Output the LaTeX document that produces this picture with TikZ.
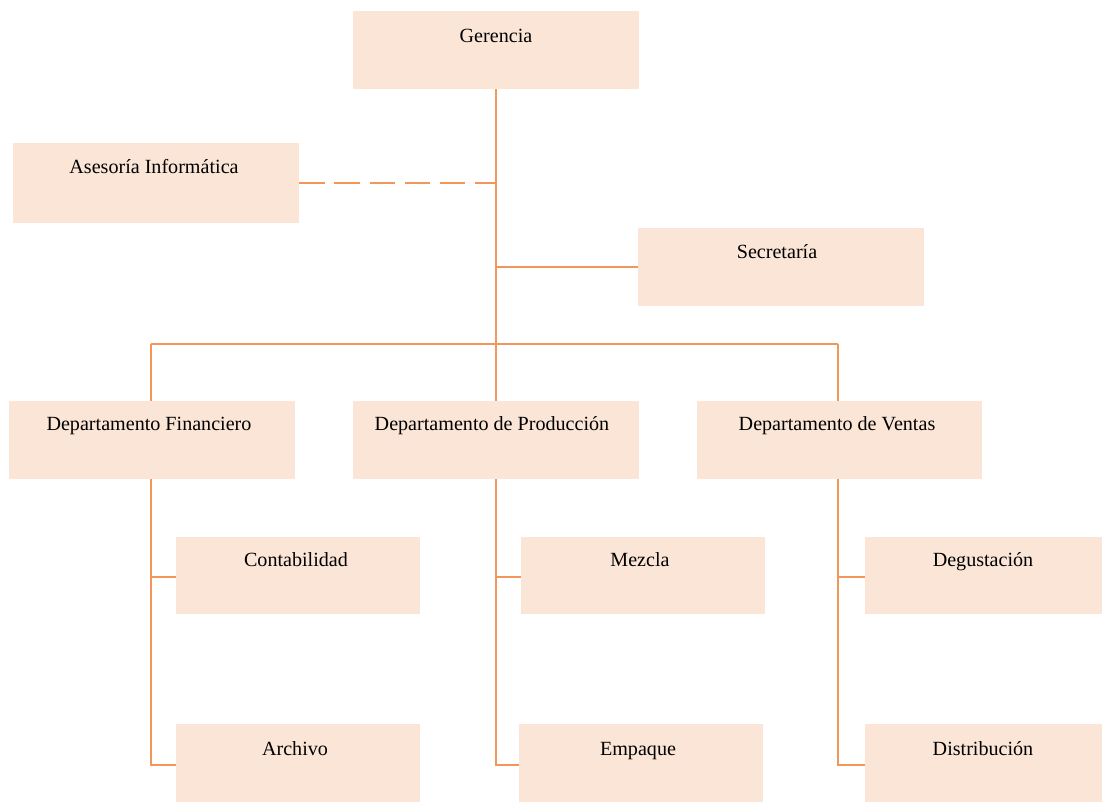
\documentclass[tikz,border=0pt]{standalone}
\usepackage{fontspec}
\setmainfont{Liberation Serif}
\definecolor{boxfill}{HTML}{FBE5D6}
\definecolor{linecol}{HTML}{F3965A}
\begin{document}
\begin{tikzpicture}[x=0.025cm,y=-0.025cm,
  box/.style={fill=boxfill,draw=none,inner sep=0pt},
  lbl/.style={font=\fontsize{14.3}{16}\selectfont,anchor=base,inner sep=0pt},
  conn/.style={draw=linecol,line width=1.5pt},
  dconn/.style={draw=linecol,line width=1.5pt,dash pattern=on 18pt off 7pt}]
\useasboundingbox (0,0) rectangle (1102,803);
% boxes
\node[box,minimum width=286*0.025cm,minimum height=78*0.025cm] (ger) at (496,50) {};
\node[lbl] (gerT) at (496,42) {Gerencia};
\node[box,minimum width=286*0.025cm,minimum height=80*0.025cm] (ase) at (156,183) {};
\node[lbl] (aseT) at (154,173) {Asesoría Informática};
\node[box,minimum width=286*0.025cm,minimum height=78*0.025cm] (sec) at (781,267) {};
\node[lbl] (secT) at (777,258) {Secretaría};
\node[box,minimum width=286*0.025cm,minimum height=78*0.025cm] (fin) at (152,440) {};
\node[lbl] (finT) at (149,430) {Departamento Financiero};
\node[box,minimum width=286*0.025cm,minimum height=78*0.025cm] (pro) at (496,440) {};
\node[lbl] (proT) at (492,430) {Departamento de Producción};
\node[box,minimum width=285*0.025cm,minimum height=78*0.025cm] (ven) at (839.5,440) {};
\node[lbl] (venT) at (837,430) {Departamento de Ventas};
\node[box,minimum width=244*0.025cm,minimum height=77*0.025cm] (con) at (298,575.5) {};
\node[lbl] (conT) at (296,566) {Contabilidad};
\node[box,minimum width=244*0.025cm,minimum height=78*0.025cm] (arc) at (298,763) {};
\node[lbl] (arcT) at (295,755) {Archivo};
\node[box,minimum width=244*0.025cm,minimum height=77*0.025cm] (mez) at (643,575.5) {};
\node[lbl] (mezT) at (640,566) {Mezcla};
\node[box,minimum width=244*0.025cm,minimum height=78*0.025cm] (emp) at (641,763) {};
\node[lbl] (empT) at (638,755) {Empaque};
\node[box,minimum width=237*0.025cm,minimum height=77*0.025cm] (deg) at (983.5,575.5) {};
\node[lbl] (degT) at (983,566) {Degustación};
\node[box,minimum width=237*0.025cm,minimum height=78*0.025cm] (dis) at (983.5,763) {};
\node[lbl] (disT) at (983,755) {Distribución};
% junction coordinates
\coordinate (jA) at (496,183);
\coordinate (jS) at (496,267);
\coordinate (jL) at (151,344);
\coordinate (jR) at (838,344);
\coordinate (f1) at (151,577);
\coordinate (f2) at (151,765);
\coordinate (p1) at (496,577);
\coordinate (p2) at (496,765);
\coordinate (v1) at (838,577);
\coordinate (v2) at (838,765);
% connectors
\draw[conn] (ger.south) -- (pro.north);
\draw[dconn] (ase.east) -- (jA);
\draw[conn] (jS) -- (sec.west);
\draw[conn] (jL) -- (jR);
\draw[conn] (jL) -- (jL |- fin.north);
\draw[conn] (jR) -- (jR |- ven.north);
\draw[conn] (f1 |- fin.south) -- (f2) -- (f2 -| arc.west);
\draw[conn] (f1) -- (f1 -| con.west);
\draw[conn] (p1 |- pro.south) -- (p2) -- (p2 -| emp.west);
\draw[conn] (p1) -- (p1 -| mez.west);
\draw[conn] (v1 |- ven.south) -- (v2) -- (v2 -| dis.west);
\draw[conn] (v1) -- (v1 -| deg.west);
\end{tikzpicture}
\end{document}
